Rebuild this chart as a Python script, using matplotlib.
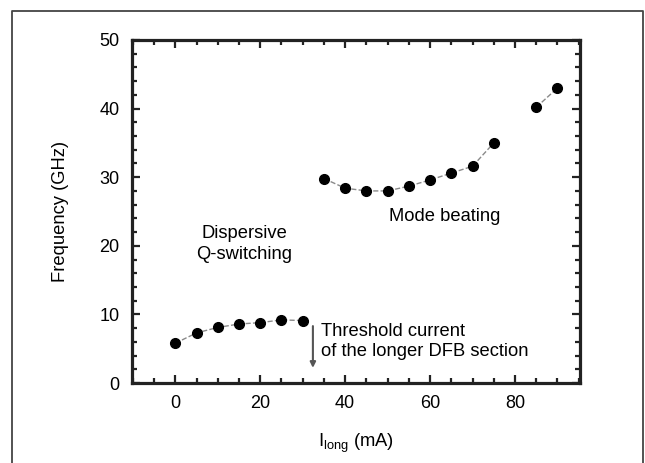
import matplotlib
matplotlib.use("Agg")
import matplotlib.pyplot as plt
from matplotlib.lines import Line2D
from matplotlib.ticker import MultipleLocator

plt.rcParams['font.family'] = ['Liberation Sans', 'DejaVu Sans']

# datos
x_qsw = [0, 5, 10, 15, 20, 25, 30]
y_qsw = [5.8, 7.3, 8.1, 8.6, 8.8, 9.2, 9.1]
x_beat = [35, 40, 45, 50, 55, 60, 65, 70, 75]
y_beat = [29.8, 28.4, 28.0, 28.0, 28.7, 29.6, 30.6, 31.6, 35.0]
x_high = [85, 90]
y_high = [40.2, 43.0]

fs = 13.2

fig = plt.figure(figsize=(6.45, 4.63), dpi=100)
ax = fig.add_axes([132/645, 1-383/463, 448/645, 343/463])

for xs, ys in [(x_qsw, y_qsw), (x_beat, y_beat), (x_high, y_high)]:
    ax.plot(xs, ys, ls='--', color='#8a8a8a', lw=1.0, zorder=2)  # linea gris
    ax.plot(xs, ys, ls='none', marker='o', ms=7, color='black', zorder=3)

ax.set_xlim(-10.2, 95.3)
ax.set_ylim(0, 50)
ax.xaxis.set_major_locator(MultipleLocator(20))
ax.xaxis.set_minor_locator(MultipleLocator(5))
ax.yaxis.set_major_locator(MultipleLocator(10))
ax.yaxis.set_minor_locator(MultipleLocator(2))
ax.set_xticks([0, 20, 40, 60, 80])
ax.set_xticklabels(['0', '20', '40', '60', '80'])
ax.tick_params(which='both', direction='in', top=True, right=True,
               color='#222222', labelsize=13)
ax.tick_params(which='major', length=6, width=1.6, pad=9)
ax.tick_params(which='minor', length=3.5, width=1.6)
for s in ax.spines.values():
    s.set_linewidth(2.3)
    s.set_color('#222222')

ax.set_ylabel('Frequency (GHz)', fontsize=fs, labelpad=22)
ax.set_xlabel(r'I$_{\mathregular{long}}$ (mA)', fontsize=fs, labelpad=14)

ax.text(16.3, 20.3, 'Dispersive\nQ-switching', ha='center', va='center',
        fontsize=fs, linespacing=1.3)
ax.text(63.5, 24.2, 'Mode beating', ha='center', va='center', fontsize=fs)
ax.text(34.3, 6.0, 'Threshold current\nof the longer DFB section', ha='left',
        va='center', fontsize=fs, linespacing=1.25)
ax.annotate('', xy=(32.4, 1.8), xytext=(32.4, 8.7),
            arrowprops=dict(arrowstyle='-|>', color='#555555', lw=1.5,
                            mutation_scale=8))

# marco exterior abierto abajo
fig.add_artist(Line2D([12/645, 12/645, 643/645, 643/645],
                      [-0.05, 1-11/463, 1-11/463, -0.05],
                      transform=fig.transFigure, color='#444444', lw=1.3))

fig.savefig('out.png', dpi=100)
